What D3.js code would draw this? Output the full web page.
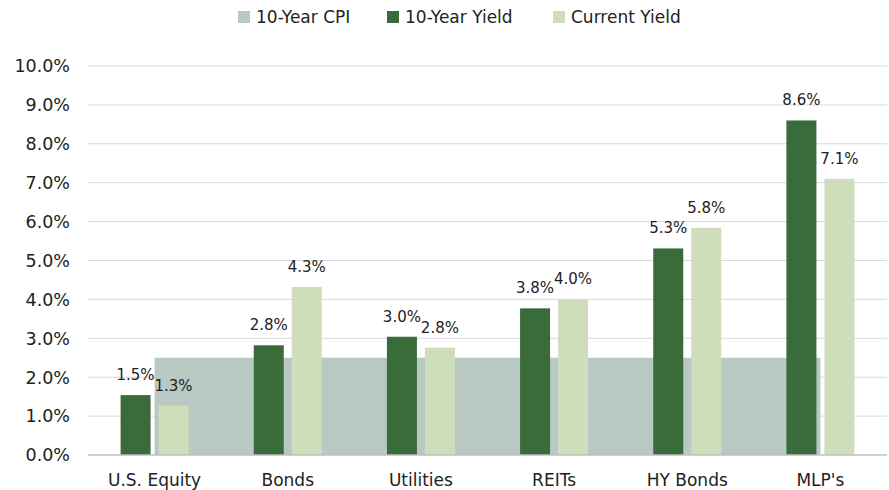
<!DOCTYPE html>
<meta charset="utf-8">
<style>
  body { margin: 0; background: #fff; }
  text { font-family: "DejaVu Sans", "Liberation Sans", sans-serif; fill: #222; }
</style>
<body>
<script src="https://cdnjs.cloudflare.com/ajax/libs/d3/7.8.5/d3.min.js"></script>
<script>

// data
var categories = ["U.S. Equity", "Bonds", "Utilities", "REITs", "HY Bonds", "MLP's"];
var cpi10 = [2.5, 2.5, 2.5, 2.5, 2.5, 2.5];
var yield10 = [1.54, 2.82, 3.04, 3.77, 5.31, 8.6];
var currentYield = [1.27, 4.32, 2.76, 4.0, 5.84, 7.1];
var yTicks = [0, 1, 2, 3, 4, 5, 6, 7, 8, 9, 10];
var legendNames = ["10-Year CPI", "10-Year Yield", "Current Yield"];
var colors = ["#b8c9c3", "#3a6b3a", "#cfdeba"];

var W = 889, H = 490;
var margin = {top: 66, right: 2, bottom: 35, left: 88};
var width = W - margin.left - margin.right,
    height = H - margin.top - margin.bottom;

var svg = d3.select("body").append("svg")
  .attr("width", W).attr("height", H);

var g = svg.append("g")
  .attr("transform", "translate(" + margin.left + "," + margin.top + ")");

var x = d3.scaleBand().domain(categories).range([0, width]);
var y = d3.scaleLinear().domain([0, 10]).range([height, 0]);

// gridlines
g.selectAll(".grid")
  .data(yTicks.slice(1))
  .enter().append("line")
  .attr("x1", 0).attr("x2", width)
  .attr("y1", function(d) { return y(d); })
  .attr("y2", function(d) { return y(d); })
  .attr("stroke", "#d9d9d9").attr("stroke-width", 1);

// y labels
g.selectAll(".ylab")
  .data(yTicks)
  .enter().append("text")
  .attr("x", -18)
  .attr("y", function(d) { return y(d); })
  .attr("dy", "0.36em")
  .attr("text-anchor", "end")
  .style("font-size", "17.5px")
  .text(function(d) { return d.toFixed(1) + "%"; });

// CPI area from first category centre to last
var cx = function(c) { return x(c) + x.bandwidth() / 2; };
var area = d3.area()
  .x(function(d, i) { return cx(categories[i]); })
  .y0(y(0))
  .y1(function(d) { return y(d); });

g.append("path")
  .datum(cpi10)
  .attr("d", area)
  .attr("fill", colors[0]);

// bars
var barW = 30, gap = 4;
var series = [
  {vals: yield10, color: colors[1], off: -gap - barW},
  {vals: currentYield, color: colors[2], off: gap}
];

series.forEach(function(s) {
  g.selectAll(null)
    .data(s.vals)
    .enter().append("rect")
    .attr("x", function(d, i) { return cx(categories[i]) + s.off; })
    .attr("width", barW)
    .attr("y", function(d) { return y(d); })
    .attr("height", function(d) { return y(0) - y(d); })
    .attr("fill", s.color);

  g.selectAll(null)
    .data(s.vals)
    .enter().append("text")
    .attr("x", function(d, i) { return cx(categories[i]) + s.off + barW / 2; })
    .attr("y", function(d) { return y(d) - 15; })
    .attr("text-anchor", "middle")
    .style("font-size", "15px")
    .text(function(d) { return d.toFixed(1) + "%"; });
});

// baseline
g.append("line")
  .attr("x1", 0).attr("x2", width)
  .attr("y1", y(0)).attr("y2", y(0))
  .attr("stroke", "#bfbfbf").attr("stroke-width", 1.5);

// category labels
g.selectAll(".xlab")
  .data(categories)
  .enter().append("text")
  .attr("x", function(d) { return cx(d); })
  .attr("y", height + 31)
  .attr("text-anchor", "middle")
  .style("font-size", "17px")
  .text(function(d) { return d; });

// legend
var legendX = [238, 387, 553];
var legend = svg.selectAll(".legend")
  .data(legendNames)
  .enter().append("g")
  .attr("transform", function(d, i) { return "translate(" + legendX[i] + ",11)"; });

legend.append("rect")
  .attr("width", 12).attr("height", 12)
  .attr("fill", function(d, i) { return colors[i]; });

legend.append("text")
  .attr("x", 18).attr("y", 12)
  .style("font-size", "17px")
  .text(function(d) { return d; });

</script>
</body>
